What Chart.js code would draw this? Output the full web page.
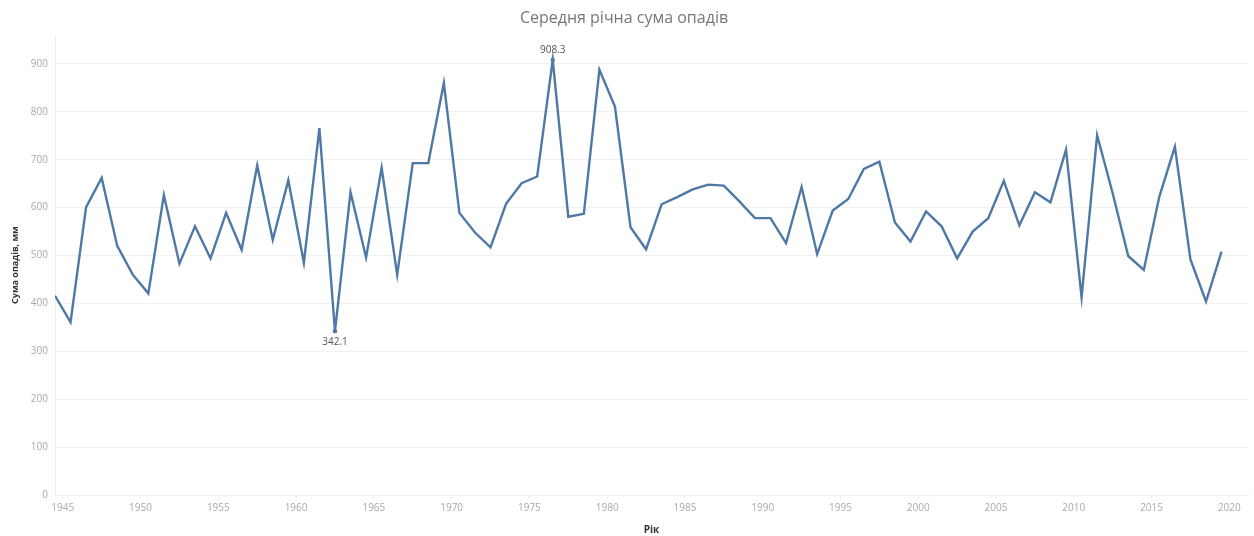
<!DOCTYPE html>
<html lang="uk">
<head>
<meta charset="utf-8">
<title>Середня річна сума опадів</title>
<script src="https://cdn.jsdelivr.net/npm/chart.js@4.4.1/dist/chart.umd.min.js"></script>
<style>
  html, body { margin: 0; padding: 0; background: #fff; }
  #wrap { width: 1254px; height: 536px; }
</style>
</head>
<body>
<div id="wrap"><canvas id="rainChart" width="1254" height="536"></canvas></div>
<script>
// annual precipitation, mm (1944 - 2019)
const years = [
  1944, 1945, 1946, 1947, 1948, 1949, 1950, 1951, 1952, 1953,
  1954, 1955, 1956, 1957, 1958, 1959, 1960, 1961, 1962, 1963,
  1964, 1965, 1966, 1967, 1968, 1969, 1970, 1971, 1972, 1973,
  1974, 1975, 1976, 1977, 1978, 1979, 1980, 1981, 1982, 1983,
  1984, 1985, 1986, 1987, 1988, 1989, 1990, 1991, 1992, 1993,
  1994, 1995, 1996, 1997, 1998, 1999, 2000, 2001, 2002, 2003,
  2004, 2005, 2006, 2007, 2008, 2009, 2010, 2011, 2012, 2013,
  2014, 2015, 2016, 2017, 2018, 2019
];
const rainfall = [
  416, 361, 601, 662, 520, 460, 421, 626, 483, 561,
  494, 589, 512, 688, 533, 657, 485, 766, 342.1, 632,
  496, 683, 460, 693, 693, 860, 589, 548, 517, 608,
  651, 665, 908.3, 581, 587, 888, 811, 559, 513, 607,
  622, 638, 648, 646, 613, 578, 578, 526, 643, 503,
  594, 618, 681, 696, 569, 529, 592, 561, 494, 550,
  578, 656, 563, 632, 611, 721, 413, 751, 630, 499,
  470, 623, 727, 492, 404, 508
];
const yearTicks = [1945, 1950, 1955, 1960, 1965, 1970, 1975, 1980, 1985, 1990, 1995, 2000, 2005, 2010, 2015, 2020];
const rainTicks = [0, 100, 200, 300, 400, 500, 600, 700, 800, 900];

// the wettest and the driest year get a value label
const maxIdx = rainfall.indexOf(Math.max(...rainfall));
const minIdx = rainfall.indexOf(Math.min(...rainfall));
const marked = [maxIdx, minIdx];

const FONT = "'Open Sans', 'Noto Sans', sans-serif";
const LINE = "#4e79a7";

// each year is plotted in the middle of its interval
const points = years.map((y, i) => ({ x: y + 0.5, y: rainfall[i] }));

const extremesLabels = {
  id: "extremesLabels",
  afterDatasetsDraw(chart) {
    const ctx = chart.ctx;
    const meta = chart.getDatasetMeta(0);
    ctx.save();
    ctx.font = "10px " + FONT;
    ctx.fillStyle = "#555";
    ctx.textAlign = "center";
    ctx.textBaseline = "middle";
    marked.forEach((i) => {
      const pt = meta.data[i];
      const above = i === maxIdx;
      ctx.fillText(rainfall[i].toFixed(1), pt.x, above ? pt.y - 10 : pt.y + 11);
    });
    ctx.restore();
  },
};

const rainChart = new Chart(document.getElementById("rainChart"), {
  type: "line",
  data: {
    datasets: [
      {
        label: "Сума опадів, мм",
        data: points,
        borderColor: LINE,
        backgroundColor: LINE,
        borderWidth: 2.4,
        tension: 0,
        pointRadius: (c) => (marked.includes(c.dataIndex) ? 2.2 : 0),
        pointBackgroundColor: LINE,
        pointBorderWidth: 0,
      },
    ],
  },
  options: {
    responsive: false,
    animation: false,
    devicePixelRatio: 1,
    layout: { padding: { left: 0, right: 6, top: 0, bottom: 0 } },
    plugins: {
      legend: { display: false },
      tooltip: { enabled: false },
      title: {
        display: true,
        text: "Середня річна сума опадів",
        color: "#777",
        font: { family: FONT, size: 16, weight: "normal" },
        padding: { top: 9, bottom: 7 },
      },
    },
    scales: {
      x: {
        type: "linear",
        min: 1944.5,
        max: 2021.2,
        afterFit: (scale) => { scale.height = 41; },
        afterBuildTicks: (scale) => {
          scale.ticks = yearTicks.map((v) => ({ value: v }));
        },
        ticks: {
          color: "#aaa",
          font: { family: FONT, size: 10 },
          padding: 3,
          maxRotation: 0,
          autoSkip: false,
          callback: (v) => String(v),
        },
        grid: {
          drawOnChartArea: false,
          drawTicks: true,
          tickLength: 4,
          color: "#eee",
        },
        border: { display: true, color: "#eee" },
        title: {
          display: true,
          text: "Рік",
          color: "#333",
          font: { family: FONT, size: 10, weight: "bold" },
          padding: { top: 0, bottom: 0 },
        },
      },
      y: {
        min: 0,
        max: 960,
        afterFit: (scale) => { scale.width = 55; },
        afterBuildTicks: (scale) => {
          scale.ticks = rainTicks.map((v) => ({ value: v }));
        },
        ticks: {
          color: "#aaa",
          font: { family: FONT, size: 10 },
          padding: 7,
        },
        grid: {
          color: "#f2f2f2",
          drawTicks: false,
        },
        border: { display: true, color: "#eee" },
        title: {
          display: true,
          text: "Сума опадів, мм",
          color: "#333",
          font: { family: FONT, size: 9, weight: "bold" },
          padding: { top: 10, bottom: 0 },
        },
      },
    },
  },
  plugins: [extremesLabels],
});
</script>
</body>
</html>
